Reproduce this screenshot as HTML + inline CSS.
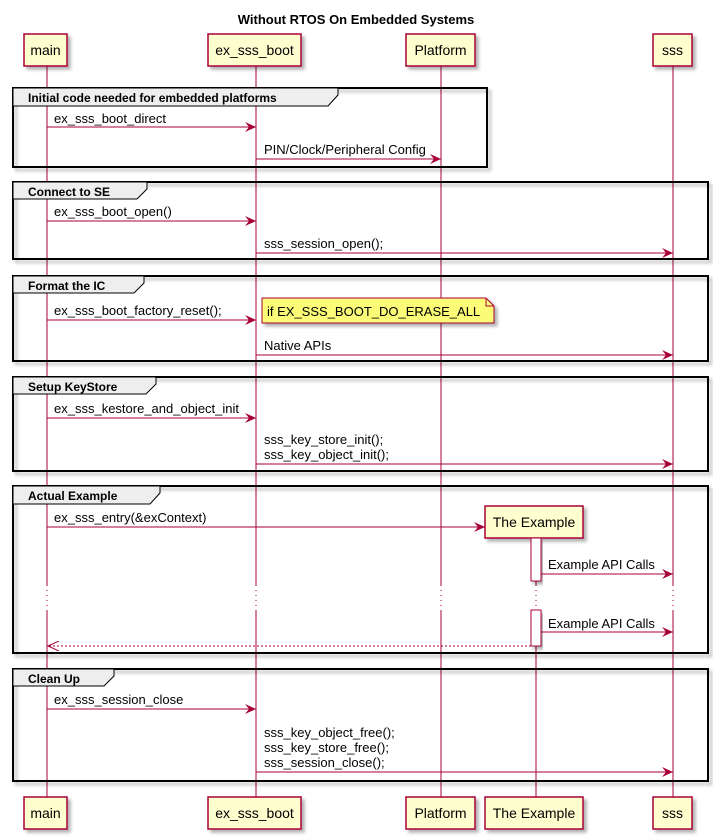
<!DOCTYPE html>
<html><head><meta charset="utf-8"><style>
html,body{margin:0;padding:0;background:#fff;}
svg{display:block;font-family:"Liberation Sans",sans-serif;}
</style></head><body>
<svg width="713" height="837" viewBox="0 0 713 837" xmlns="http://www.w3.org/2000/svg">
<defs>
<filter id="sh" x="-10%" y="-10%" width="130%" height="140%"><feDropShadow dx="3" dy="3" stdDeviation="1.5" flood-color="#000" flood-opacity="0.3"/></filter>
<marker id="ar" markerWidth="12" markerHeight="10" refX="11" refY="5" orient="auto" markerUnits="userSpaceOnUse"><path d="M0,0 L11,5 L0,10 L4,5 Z" fill="#A80036"/></marker>
<marker id="al" markerWidth="12" markerHeight="10" refX="11" refY="5" orient="auto" markerUnits="userSpaceOnUse"><path d="M0,0 L11,5 L0,10" fill="none" stroke="#A80036" stroke-width="1"/></marker>
</defs>
<text x="356" y="24" text-anchor="middle" font-size="13" font-weight="bold">Without RTOS On Embedded Systems</text>

<g stroke="#A80036" stroke-width="1">
<line x1="47" y1="66" x2="47" y2="585"/><line x1="47" y1="610" x2="47" y2="797"/>
<line x1="256" y1="66" x2="256" y2="585"/><line x1="256" y1="610" x2="256" y2="797"/>
<line x1="441" y1="66" x2="441" y2="585"/><line x1="441" y1="610" x2="441" y2="797"/>
<line x1="673" y1="66" x2="673" y2="585"/><line x1="673" y1="610" x2="673" y2="797"/>
<line x1="536" y1="538" x2="536" y2="585"/><line x1="536" y1="610" x2="536" y2="797"/>
<g stroke-dasharray="1,4">
<line x1="47" y1="585" x2="47" y2="610"/><line x1="256" y1="585" x2="256" y2="610"/><line x1="441" y1="585" x2="441" y2="610"/><line x1="673" y1="585" x2="673" y2="610"/><line x1="536" y1="585" x2="536" y2="610"/>
</g>
</g>

<g fill="#FEFECE" stroke="#A80036" stroke-width="1.5" filter="url(#sh)">
<rect x="24" y="34" width="43" height="32"/>
<rect x="208" y="34" width="93" height="32"/>
<rect x="406" y="34" width="69" height="32"/>
<rect x="653" y="34" width="39" height="32"/>
<rect x="24" y="797" width="43" height="32"/>
<rect x="208" y="797" width="93" height="32"/>
<rect x="406" y="797" width="69" height="32"/>
<rect x="485" y="797" width="98" height="32"/>
<rect x="653" y="797" width="39" height="32"/>
<rect x="485" y="506" width="98" height="32"/>
</g>
<g font-size="14" text-anchor="middle" fill="#000">
<text x="45.5" y="55">main</text><text x="254.5" y="55">ex_sss_boot</text><text x="440.5" y="55">Platform</text><text x="672.5" y="55">sss</text>
<text x="45.5" y="818">main</text><text x="254.5" y="818">ex_sss_boot</text><text x="440.5" y="818">Platform</text><text x="534" y="818">The Example</text><text x="672.5" y="818">sss</text>
<text x="534" y="527">The Example</text>
</g>

<g fill="#fff" stroke="#A80036" stroke-width="1" filter="url(#sh)">
<rect x="531" y="538" width="10" height="43"/>
<rect x="531" y="610" width="10" height="36"/>
</g>

<g fill="none" stroke="#000" stroke-width="2" filter="url(#sh)">
<rect x="13" y="88" width="474" height="79"/>
<rect x="13" y="182" width="695" height="77"/>
<rect x="13" y="276" width="695" height="85"/>
<rect x="13" y="377" width="695" height="94"/>
<rect x="13" y="486" width="695" height="167"/>
<rect x="13" y="669" width="695" height="112"/>
</g>
<g fill="#EEEEEE" stroke="#000" stroke-width="1">
<path d="M13,88 H338 V95 L328,106 H13 Z"/>
<path d="M13,182 H147 V189 L137,199 H13 Z"/>
<path d="M13,276 H144 V283 L134,293 H13 Z"/>
<path d="M13,377 H156 V384 L146,394 H13 Z"/>
<path d="M13,486 H160 V493 L150,504 H13 Z"/>
<path d="M13,669 H114 V676 L104,686 H13 Z"/>
</g>
<g font-size="12" font-weight="bold">
<text x="28" y="102">Initial code needed for embedded platforms</text>
<text x="28" y="196">Connect to SE</text>
<text x="28" y="290">Format the IC</text>
<text x="28" y="391">Setup KeyStore</text>
<text x="28" y="500">Actual Example</text>
<text x="28" y="683">Clean Up</text>
</g>

<path d="M262,298 H486 L494,306 V323 H262 Z" fill="#FBFB77" stroke="#A80036" stroke-width="1" filter="url(#sh)"/>
<path d="M486,298 V306 H494" fill="none" stroke="#A80036"/>
<text x="267" y="316" font-size="13">if EX_SSS_BOOT_DO_ERASE_ALL</text>

<g stroke="#A80036" stroke-width="1" marker-end="url(#ar)">
<line x1="47" y1="127" x2="256" y2="127"/>
<line x1="256" y1="159" x2="441" y2="159"/>
<line x1="47" y1="221" x2="256" y2="221"/>
<line x1="256" y1="253" x2="673" y2="253"/>
<line x1="47" y1="320" x2="256" y2="320"/>
<line x1="256" y1="355" x2="673" y2="355"/>
<line x1="47" y1="418" x2="256" y2="418"/>
<line x1="256" y1="464" x2="673" y2="464"/>
<line x1="47" y1="527" x2="485" y2="527"/>
<line x1="541" y1="574" x2="673" y2="574"/>
<line x1="541" y1="632" x2="673" y2="632"/>
<line x1="47" y1="709" x2="256" y2="709"/>
<line x1="256" y1="772" x2="673" y2="772"/>
</g>
<line x1="531" y1="646" x2="48" y2="646" stroke="#A80036" stroke-width="1" stroke-dasharray="2,2" marker-end="url(#al)"/>

<g font-size="13" fill="#000" transform="translate(0,0)">
<text x="54" y="123">ex_sss_boot_direct</text>
<text x="264" y="154">PIN/Clock/Peripheral Config</text>
<text x="54" y="216">ex_sss_boot_open()</text>
<text x="264" y="248">sss_session_open();</text>
<text x="54" y="315">ex_sss_boot_factory_reset();</text>
<text x="264" y="350">Native APIs</text>
<text x="54" y="413">ex_sss_kestore_and_object_init</text>
<text x="264" y="444">sss_key_store_init();</text>
<text x="264" y="459">sss_key_object_init();</text>
<text x="54" y="522">ex_sss_entry(&amp;exContext)</text>
<text x="548" y="569">Example API Calls</text>
<text x="548" y="628">Example API Calls</text>
<text x="54" y="704">ex_sss_session_close</text>
<text x="264" y="737">sss_key_object_free();</text>
<text x="264" y="752">sss_key_store_free();</text>
<text x="264" y="767">sss_session_close();</text>
</g>
</svg>
</body></html>
